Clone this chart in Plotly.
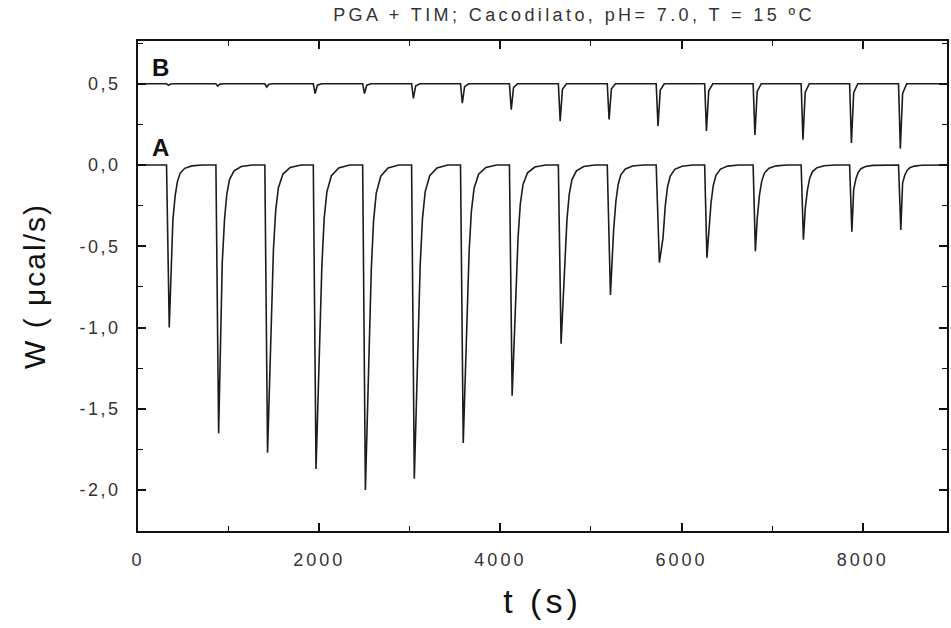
import plotly.graph_objects as go

TITLE = "PGA + TIM; Cacodilato, pH= 7.0, T = 15 ºC"
X_TITLE = "t (s)"
Y_TITLE = "W ( μcal/s)"

# injection times (s)
injection_t = [315, 860, 1400, 1935, 2480, 3020, 3560, 4100, 4640, 5180,
               5720, 6255, 6790, 7320, 7855, 8395]
# curve A: minimum of each peak and value ~70 s after injection (μcal/s)
a_min = [-1.00, -1.65, -1.77, -1.87, -2.00, -1.93, -1.71, -1.42, -1.10, -0.80,
         -0.60, -0.57, -0.53, -0.46, -0.41, -0.40]
a_knee = [-0.34, -0.60, -0.93, -1.10, -1.15, -1.10, -0.95, -0.80, -0.60, -0.40,
          -0.45, -0.42, -0.33, -0.27, -0.15, -0.11]
# time after injection of the minimum and of the knee (s)
min_dt = [30, 30, 30, 30, 30, 30, 30, 30, 30, 35,
          35, 25, 25, 25, 25, 25]
knee_dt = [70, 70, 70, 70, 70, 70, 70, 70, 70, 70,
           75, 45, 45, 45, 45, 45]
# recovery of a peak: time after the knee (s), fraction of knee value
recovery_dt = [0, 25, 50, 80, 130, 210, 330]
recovery_frac = [1.0, 0.56, 0.30, 0.15, 0.06, 0.016, 0.0]
# curve B (blank): minimum of each dilution spike
b_min = [0.49, 0.485, 0.48, 0.44, 0.44, 0.41, 0.38, 0.34, 0.27, 0.28,
         0.24, 0.21, 0.185, 0.155, 0.135, 0.10]
b_dip_dt = [0, 20, 45, 90]
b_dip_frac = [0.0, 1.0, 0.15, 0.0]
A_BASE = 0.0
B_BASE = 0.5

x_range = [0, 8930]
y_range = [-2.252, 0.763]
x_tick_vals = [0, 2000, 4000, 6000, 8000]
x_tick_text = ["0", "2000", "4000", "6000", "8000"]
y_tick_vals = [0.5, 0.0, -0.5, -1.0, -1.5, -2.0]
y_tick_text = ["0,5", "0,0", "-0,5", "-1,0", "-1,5", "-2,0"]
curve_labels = ["A", "B"]
label_pos_x = [250, 250]
label_pos_y = [0.105, 0.60]

# build curve A
ax, ay = [0], [A_BASE]
for t, m, k, md, kd in zip(injection_t, a_min, a_knee, min_dt, knee_dt):
    ax += [t, t + md]
    ay += [A_BASE, m]
    for dt, f in zip(recovery_dt, recovery_frac):
        ax.append(t + kd + dt)
        ay.append(A_BASE + k * f)
ax.append(x_range[1])
ay.append(A_BASE)

# build curve B
bx, by = [0], [B_BASE]
for t, m in zip(injection_t, b_min):
    for dt, f in zip(b_dip_dt, b_dip_frac):
        bx.append(t + dt)
        by.append(B_BASE + (m - B_BASE) * f)
bx.append(x_range[1])
by.append(B_BASE)

LINE = "#1c1c1c"
FONT = "Liberation Sans, Arial, sans-serif"


def spaced(s, px):
    return '<span style="letter-spacing:%spx">%s</span>' % (px, s)


fig = go.Figure()
fig.add_trace(go.Scatter(x=bx, y=by, mode="lines", line=dict(color=LINE, width=1.6),
                         name="B", showlegend=False))
fig.add_trace(go.Scatter(x=ax, y=ay, mode="lines", line=dict(color=LINE, width=1.6),
                         name="A", showlegend=False))

for lab, lx, ly in zip(curve_labels, label_pos_x, label_pos_y):
    fig.add_annotation(x=lx, y=ly, xref="x", yref="y", text="<b>%s</b>" % lab,
                       showarrow=False, font=dict(family=FONT, size=24, color="#111"),
                       xanchor="center", yanchor="middle")

axis_common = dict(showline=True, linecolor="#111", linewidth=1.6, mirror="ticks",
                   ticks="inside", tickcolor="#111", tickwidth=1.6, ticklen=8,
                   showgrid=False, zeroline=False,
                   tickfont=dict(family=FONT, size=18, color="#333"))

fig.update_layout(
    width=951, height=628,
    margin=dict(l=138, r=2, t=41, b=97),
    paper_bgcolor="white", plot_bgcolor="white",
    title=dict(text=spaced(TITLE, 3.4), x=574 / 951, xref="container",
               xanchor="center", y=1 - 15 / 628, yref="container", yanchor="middle",
               font=dict(family=FONT, size=18, color="#333")),
    xaxis=dict(range=x_range, tickvals=x_tick_vals,
               ticktext=[spaced(s, 3) for s in x_tick_text],
               minor=dict(dtick=1000, tick0=0, ticks="inside", ticklen=5,
                          tickcolor="#111", tickwidth=1.4),
               ticklabelstandoff=12,
               title=dict(text=spaced(X_TITLE, 4), standoff=20,
                          font=dict(family=FONT, size=34, color="#111")),
               **axis_common),
    yaxis=dict(range=y_range, tickvals=y_tick_vals,
               ticktext=[spaced(s, 2.5) for s in y_tick_text],
               minor=dict(dtick=0.25, tick0=0, ticks="inside", ticklen=5,
                          tickcolor="#111", tickwidth=1.4),
               ticklabelstandoff=12,
               title=dict(text=spaced(Y_TITLE, 2), standoff=25,
                          font=dict(family=FONT, size=30, color="#111")),
               **axis_common),
)

fig.write_html("out.html")
